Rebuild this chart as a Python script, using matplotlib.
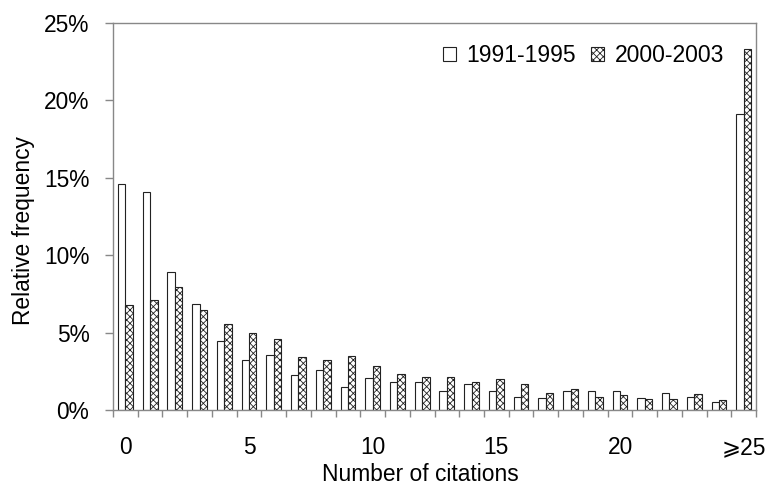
import matplotlib
matplotlib.use("Agg")
import matplotlib.pyplot as plt
import numpy as np
from matplotlib.ticker import FuncFormatter, MultipleLocator, FixedLocator

plt.rcParams['font.family'] = ['Liberation Sans', 'DejaVu Sans']
plt.rcParams['hatch.linewidth'] = 0.6

categories = list(range(26))
tick_positions = [0, 5, 10, 15, 20, 25]
tick_labels = ["0", "5", "10", "15", "20", "\u2a7e25"]
series_1991_1995 = [14.6, 14.1, 8.9, 6.85, 4.45, 3.22, 3.58, 2.28, 2.6, 1.46, 2.08,
                    1.83, 1.83, 1.22, 1.71, 1.22, 0.86, 0.77, 1.23, 1.21, 1.21,
                    0.77, 1.1, 0.86, 0.51, 19.1]
series_2000_2003 = [6.8, 7.12, 7.95, 6.45, 5.55, 4.95, 4.58, 3.45, 3.23, 3.48, 2.86,
                    2.33, 2.16, 2.16, 1.82, 2.0, 1.69, 1.1, 1.36, 0.86, 0.97,
                    0.7, 0.7, 1.03, 0.62, 23.3]

fig = plt.figure(figsize=(7.66, 4.91), dpi=100)
ax = fig.add_axes([0.1475, 0.165, 0.8395, 0.788])

x = np.array(categories)
w = 0.3
ax.bar(x - w / 2, series_1991_1995, width=w, color='white', edgecolor='#222222',
       linewidth=0.8, label='1991-1995')
ax.bar(x + w / 2, series_2000_2003, width=w, color='white', edgecolor='#222222',
       linewidth=0.8, hatch='xxxxx', label='2000-2003')

ax.set_xlim(-0.5, 25.5)
ax.set_ylim(0, 25)
ax.yaxis.set_major_locator(MultipleLocator(5))
ax.yaxis.set_major_formatter(FuncFormatter(lambda v, p: f"{int(v)}%"))

ax.set_xticks(tick_positions)
ax.set_xticklabels(tick_labels)
ax.xaxis.set_minor_locator(FixedLocator(np.arange(-0.5, 26, 1)))
ax.tick_params(axis='x', which='major', length=0, pad=19, labelsize=16.4)
ax.tick_params(axis='x', which='minor', length=5, direction='out', color='#888888', width=1)
ax.tick_params(axis='y', which='major', length=6, direction='out', color='#888888',
               width=1, pad=11, labelsize=16.4)

for s in ax.spines.values():
    s.set_color('#888888')
    s.set_linewidth(1.0)

ax.set_xlabel("Number of citations", fontsize=16.4)
ax.set_ylabel("Relative frequency", fontsize=16.4)
ax.xaxis.set_label_coords(0.4775, -0.137)
ax.yaxis.set_label_coords(-0.122, 0.463)

leg = ax.legend(loc='upper right', ncol=2, frameon=False, fontsize=16.5,
                handlelength=0.55, handleheight=0.55, handletextpad=0.48,
                columnspacing=0.65, borderpad=0, borderaxespad=0,
                bbox_to_anchor=(724 / 766, 1 - 44 / 491), bbox_transform=fig.transFigure)

fig.savefig("out.png", dpi=100)
